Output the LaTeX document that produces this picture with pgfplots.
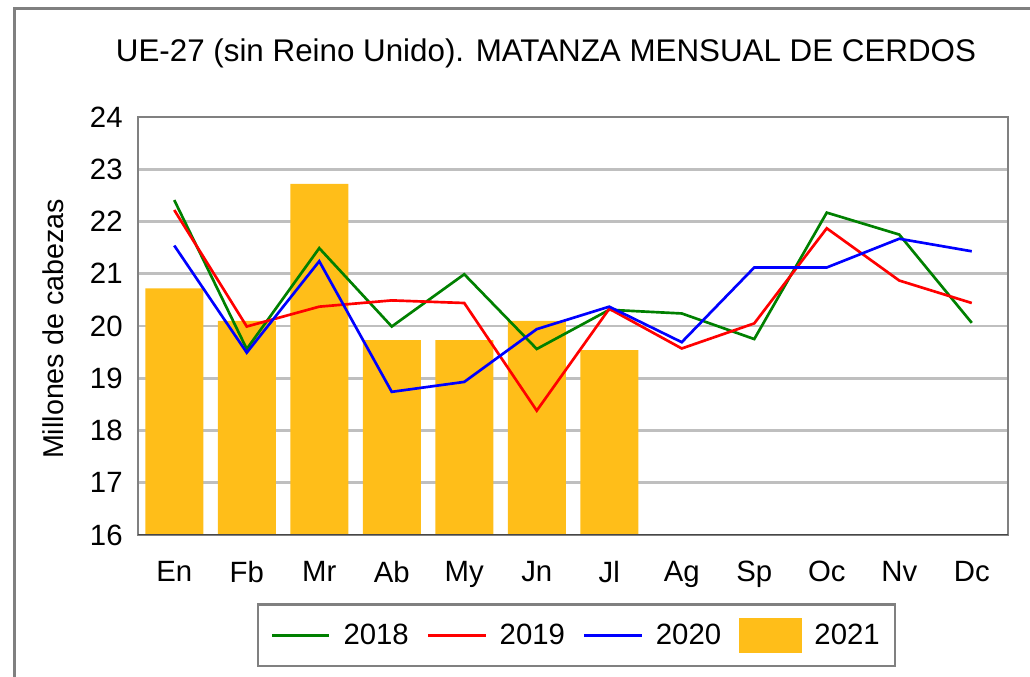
\documentclass[border=0pt]{standalone}
\usepackage{pgfplots}
\pgfplotsset{compat=1.18}
\usepackage{fontspec}
\setmainfont{Liberation Sans}
\definecolor{c18}{RGB}{0,128,0}
\definecolor{c19}{RGB}{255,0,0}
\definecolor{c20}{RGB}{0,0,255}
\definecolor{c21}{RGB}{255,190,25}
\definecolor{gridc}{RGB}{191,191,191}
\definecolor{framec}{RGB}{128,128,128}
\definecolor{botc}{RGB}{70,70,70}
\begin{document}
\begin{tikzpicture}
\path[use as bounding box] (0,0) rectangle (772.5pt,507.75pt);
\draw[framec, line width=2pt] (11pt,-20pt) rectangle (800pt,501.5pt);
\begin{axis}[
  at={(103.5pt,106.5pt)}, anchor=south west,
  scale only axis, width=652.5pt, height=313.5pt,
  xmin=-0.5, xmax=11.5, ymin=16, ymax=24,
  xtick={0,...,11},
  xticklabels={En,Fb,Mr,Ab,My,Jn,Jl,Ag,Sp,Oc,Nv,Dc},
  ytick={16,...,24},
  major tick length=0pt,
  ymajorgrids, grid style={gridc, line width=2pt},
  axis line style={framec, line width=2.2pt},
  /pgf/number format/assume math mode=true,
  xticklabel style={font=\fontsize{22}{26}\selectfont, yshift=-16pt},
  yticklabel style={font=\fontsize{22}{26}\selectfont, xshift=-8pt},
  ylabel={Millones de cabezas},
  every axis y label/.style={at={(axis description cs:-0.0977,0.4928)}, rotate=90, anchor=center},
  ylabel style={font=\fontsize{21.5}{26}\selectfont},
  title={UE-27 (sin Reino Unido). MATANZA MENSUAL DE CERDOS},
  title style={at={(axis description cs:0.469,1.132)}, anchor=center, font=\fontsize{23.5}{28}\selectfont},
  legend columns=4,
  legend style={at={(axis description cs:0.5040,-0.2404)}, anchor=center,
    draw=framec, line width=2pt, font=\fontsize{22}{26}\selectfont,
    inner xsep=9.5pt, inner ysep=10pt,
    /tikz/every odd column/.append style={column sep=7.5pt},
    /tikz/every even column/.append style={column sep=11.5pt}},
  legend image code/.code={\draw[#1, line width=2.2pt] (0pt,0pt) -- (43pt,0pt);},
]
\addplot[ybar, bar width=0.8, fill=c21, draw=none, forget plot] coordinates {
 (0,20.72) (1,20.10) (2,22.72) (3,19.73) (4,19.73) (5,20.10) (6,19.54)};
\addplot[c18, line width=2pt] coordinates {
 (0,22.41) (1,19.56) (2,21.49) (3,19.99) (4,20.99) (5,19.56) (6,20.31) (7,20.24) (8,19.75) (9,22.17) (10,21.75) (11,20.06)};
\addlegendentry{2018}
\addplot[c19, line width=2pt] coordinates {
 (0,22.22) (1,19.99) (2,20.37) (3,20.49) (4,20.44) (5,18.38) (6,20.33) (7,19.57) (8,20.05) (9,21.87) (10,20.87) (11,20.44)};
\addlegendentry{2019}
\addplot[c20, line width=2pt] coordinates {
 (0,21.54) (1,19.49) (2,21.24) (3,18.74) (4,18.93) (5,19.94) (6,20.37) (7,19.69) (8,21.12) (9,21.12) (10,21.67) (11,21.43)};
\addlegendentry{2020}
\addlegendimage{legend image code/.code={\fill[c21] (0pt,-12pt) rectangle (45pt,12pt);}}
\addlegendentry{2021}
\draw[botc, line width=2.2pt] (rel axis cs:0,0) -- (rel axis cs:1,0);
\end{axis}
\end{tikzpicture}
\end{document}
